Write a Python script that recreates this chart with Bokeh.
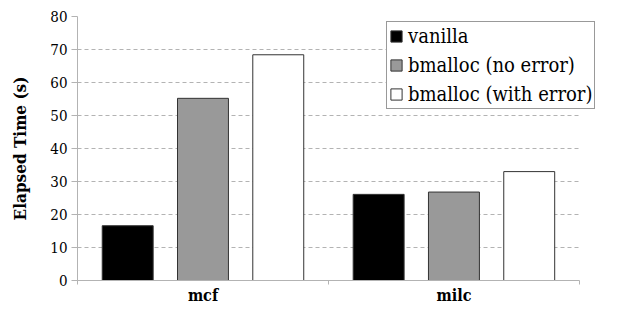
from bokeh.plotting import figure
from bokeh.models import ColumnDataSource, FixedTicker, Range1d, Legend, LegendItem
from bokeh.embed import file_html
from bokeh.resources import INLINE

categories = ["mcf", "milc"]
series_names = ["vanilla", "bmalloc (no error)", "bmalloc (with error)"]
vanilla = [16.6, 26.1]
bmalloc_no_error = [55.2, 26.8]
bmalloc_with_error = [68.4, 33.0]
y_ticks = [0, 10, 20, 30, 40, 50, 60, 70, 80]

FONT = "'DejaVu Serif Condensed'"

p = figure(width=601, height=307, output_backend="svg", toolbar_location=None,
           x_range=Range1d(0, 2.084), y_range=Range1d(0, 80))
p.min_border_left = 77
p.min_border_right = 1
p.min_border_top = 16
p.min_border_bottom = 10
p.outline_line_color = None
p.background_fill_color = "white"
p.border_fill_color = "white"

centers = [i + 0.5 for i in range(len(categories))]
series = [vanilla, bmalloc_no_error, bmalloc_with_error]
fills = ["#000000", "#999999", "#ffffff"]
offsets = [-0.3, 0.0, 0.3]
renderers = []
for vals, fc, off in zip(series, fills, offsets):
    src = ColumnDataSource(dict(x=[c + off for c in centers], top=vals))
    r = p.vbar(x="x", top="top", width=0.203, source=src, fill_color=fc,
               line_color="#333333", line_width=1)
    renderers.append(r)

# y axis
p.yaxis.ticker = FixedTicker(ticks=y_ticks)
p.yaxis.axis_line_color = "#b3b3b3"
p.yaxis.major_tick_line_color = "#b3b3b3"
p.yaxis.major_tick_out = 6
p.yaxis.major_tick_in = 0
p.yaxis.minor_tick_line_color = None
p.yaxis.major_label_text_font = FONT
p.yaxis.major_label_text_font_size = "15px"
p.yaxis.major_label_text_color = "#000000"
p.yaxis.major_label_standoff = 4
p.yaxis.axis_label = "Elapsed Time (s)"
p.yaxis.axis_label_text_font = FONT
p.yaxis.axis_label_text_font_style = "bold"
p.yaxis.axis_label_text_font_size = "17px"
p.yaxis.axis_label_text_color = "#000000"
p.yaxis.axis_label_standoff = 17

# x axis
p.xaxis.bounds = (0, 2)
p.xaxis.ticker = FixedTicker(ticks=centers, minor_ticks=[0, 1, 2])
p.xaxis.major_label_overrides = {c: name for c, name in zip(centers, categories)}
p.xaxis.axis_line_color = "#b3b3b3"
p.xaxis.major_tick_line_color = None
p.xaxis.major_tick_out = 0
p.xaxis.major_tick_in = 0
p.xaxis.minor_tick_line_color = "#b3b3b3"
p.xaxis.minor_tick_out = 4
p.xaxis.minor_tick_in = 0
p.xaxis.major_label_text_font = FONT
p.xaxis.major_label_text_font_style = "bold"
p.xaxis.major_label_text_font_size = "16px"
p.xaxis.major_label_text_color = "#000000"
p.xaxis.major_label_standoff = 1

p.xgrid.grid_line_color = None
p.ygrid.ticker = FixedTicker(ticks=y_ticks[1:])
p.ygrid.cross_bounds = (0, 2)
p.ygrid.grid_line_color = "#b3b3b3"
p.ygrid.grid_line_dash = "4 3"
p.ygrid.grid_line_width = 1

legend = Legend(items=[LegendItem(label=n, renderers=[r]) for n, r in zip(series_names, renderers)],
                location=(309, 171))
legend.label_text_font = FONT
legend.label_text_font_style = "normal"
legend.label_text_font_size = "20px"
legend.label_text_color = "#000000"
legend.glyph_width = 14
legend.glyph_height = 14
legend.label_height = 21
legend.label_standoff = 5
legend.spacing = 5
legend.padding = 2
legend.margin = 0
legend.border_line_color = "#333333"
legend.border_line_width = 1
legend.background_fill_alpha = 1
p.add_layout(legend, "center")

open("out.html", "w").write(file_html(p, INLINE))
